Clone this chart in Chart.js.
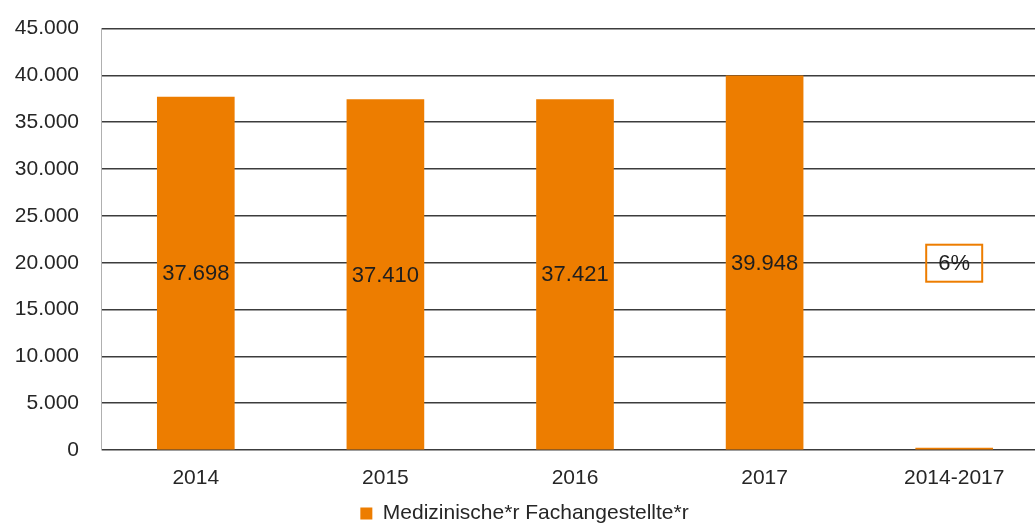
<!DOCTYPE html>
<html>
<head>
<meta charset="utf-8">
<script src="https://cdn.jsdelivr.net/npm/chart.js@4"></script>
<style>
  html, body { margin: 0; padding: 0; background: #fff; overflow: hidden; }
  #wrap { width: 1049px; height: 540px; margin-top: -6px; }
</style>
</head>
<body>
<div id="wrap"><canvas id="chart" width="1049" height="540"></canvas></div>
<script>
const categories = ['2014', '2015', '2016', '2017', '2014-2017'];
const seriesName = 'Medizinische*r Fachangestellte*r';
const seriesValues = [37698, 37410, 37421, 39948, 6];
const yTicks = [0, 5000, 10000, 15000, 20000, 25000, 30000, 35000, 40000, 45000];

const orange = '#ED7D00';
const font = 'Liberation Sans, Arial, sans-serif';

const fmt = v => String(v).replace(/\B(?=(\d{3})+(?!\d))/g, '.');

// labels in the middle of each bar, the change in a framed box
const barLabels = {
  id: 'barLabels',
  afterDatasetsDraw(chart) {
    const ctx = chart.ctx;
    const meta = chart.getDatasetMeta(0);
    const y = chart.scales.y;
    ctx.save();
    ctx.font = '22px ' + font;
    ctx.fillStyle = '#1e1e1e';
    ctx.textAlign = 'center';
    ctx.textBaseline = 'middle';
    meta.data.forEach((bar, i) => {
      if (i === seriesValues.length - 1) {
        const cy = y.getPixelForValue(20000);
        ctx.strokeStyle = orange;
        ctx.lineWidth = 2;
        ctx.strokeRect(bar.x - 28, cy - 18, 56, 37);
        ctx.fillText(seriesValues[i] + '%', bar.x, cy + 1);
      } else {
        ctx.fillText(fmt(seriesValues[i]), bar.x, (bar.y + bar.base) / 2 + 1);
      }
    });
    ctx.restore();
  }
};

new Chart(document.getElementById('chart'), {
  type: 'bar',
  data: {
    labels: categories,
    datasets: [{
      label: seriesName,
      data: seriesValues,
      backgroundColor: orange,
      barThickness: 77,
      minBarLength: 2
    }]
  },
  options: {
    responsive: false,
    animation: false,
    layout: { padding: { top: 14, right: 0, bottom: 0, left: 0 } },
    plugins: {
      tooltip: { enabled: false },
      legend: {
        position: 'bottom',
        labels: {
          color: '#262626',
          font: { family: font, size: 21 },
          boxWidth: 12,
          boxHeight: 12,
          padding: 6
        }
      }
    },
    scales: {
      x: {
        grid: { display: false, drawTicks: false },
        border: { display: false },
        ticks: { color: '#262626', font: { family: font, size: 21 }, padding: 16 },
        afterFit(s) { s.height = 47; }
      },
      y: {
        min: 0,
        max: 45000,
        afterBuildTicks(s) { s.ticks = yTicks.map(v => ({ value: v })); },
        grid: { color: '#3c3c3c', lineWidth: 1.5, drawTicks: false },
        border: { display: true, color: '#b0b0b0', width: 1 },
        ticks: {
          color: '#262626',
          font: { family: font, size: 21 },
          padding: 22,
          callback: v => fmt(v)
        },
        afterFit(s) { s.width = 101; }
      }
    }
  },
  plugins: [barLabels]
});
</script>
</body>
</html>
